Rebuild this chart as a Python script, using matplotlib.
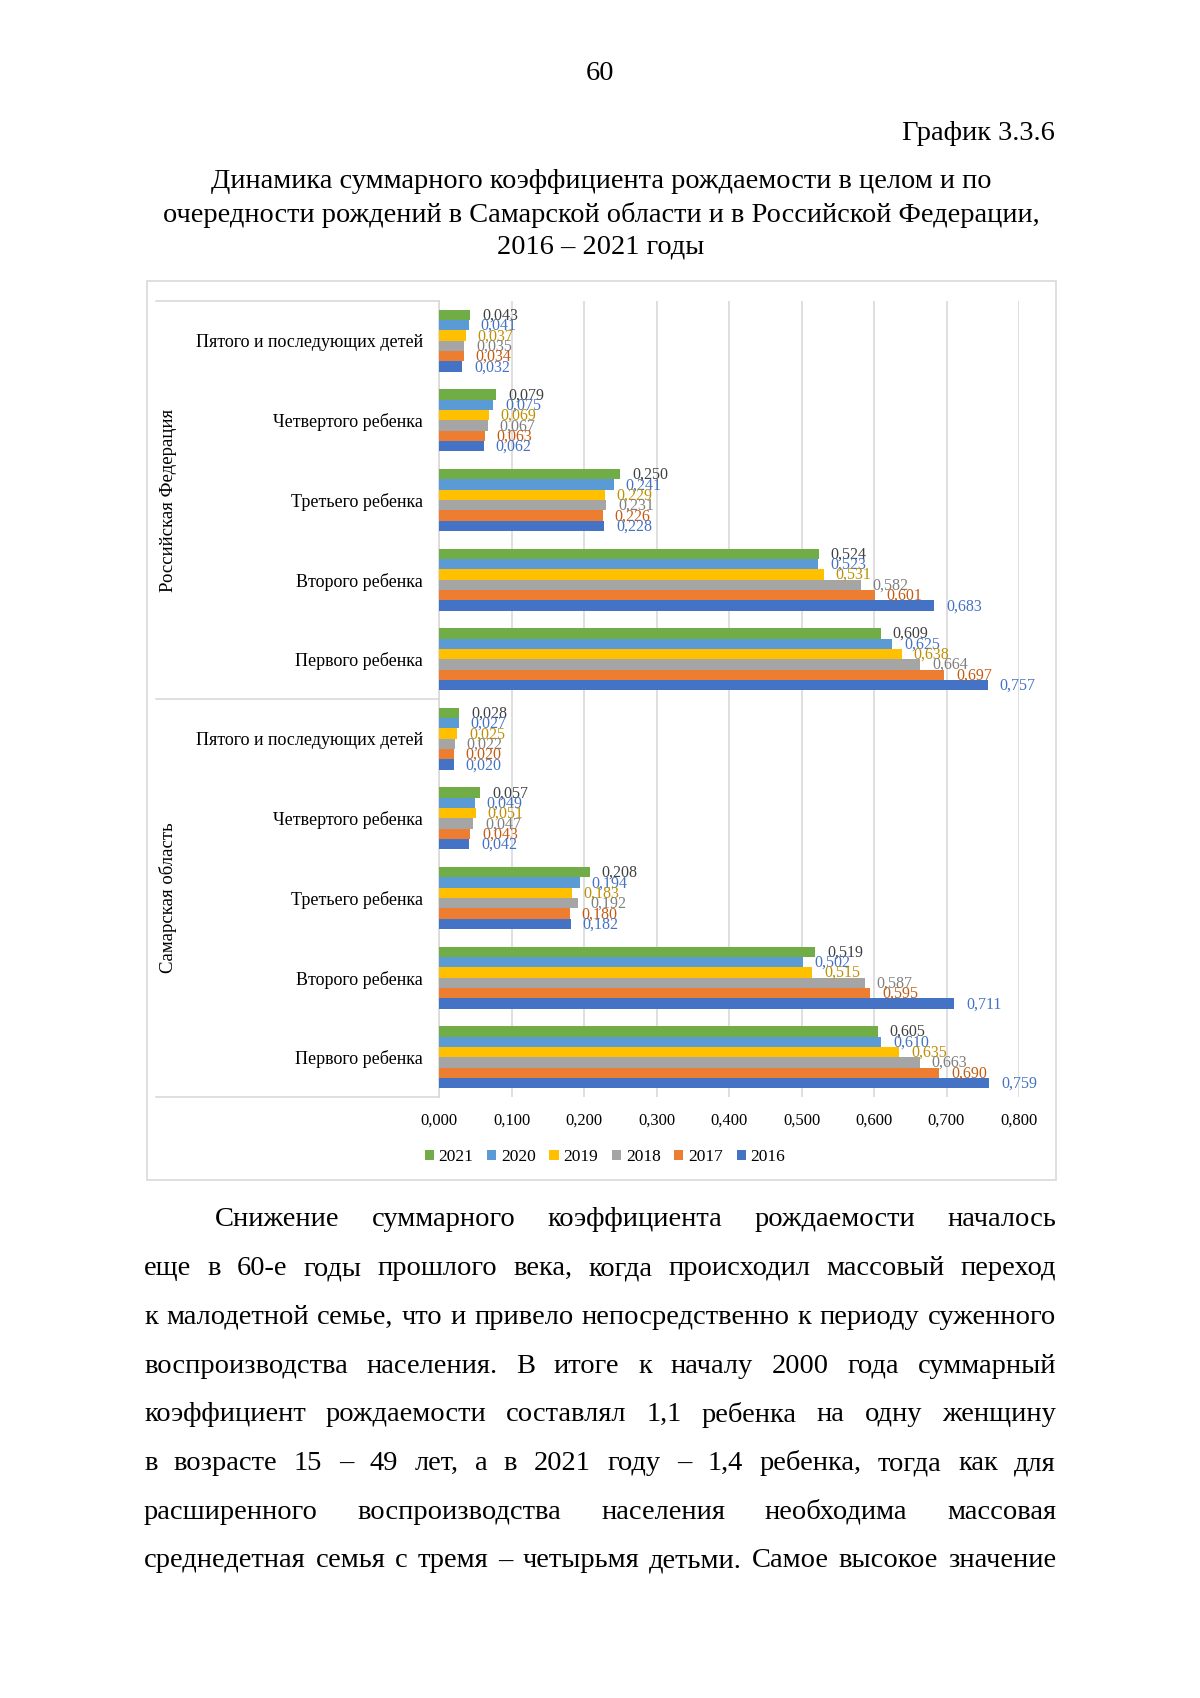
import matplotlib
matplotlib.use('Agg')
import matplotlib.pyplot as plt
from matplotlib.patches import Rectangle
from matplotlib.lines import Line2D
import numpy as np

plt.rcParams['font.family'] = ['Liberation Serif', 'DejaVu Serif']

W, H = 1200, 1698

years = ['2021', '2020', '2019', '2018', '2017', '2016']
bar_colors = ['#70AD47', '#5B9BD5', '#FFC000', '#A5A5A5', '#ED7D31', '#4472C4']
label_colors = ['#404040', '#4472C4', '#BF9000', '#7F7F7F', '#C55A11', '#4472C4']

categories = ['Первого ребенка', 'Второго ребенка', 'Третьего ребенка',
              'Четвертого ребенка', 'Пятого и последующих детей']
regions = ['Самарская область', 'Российская Федерация']

# строки - годы (2021 ... 2016), столбцы - очередность (Первого ... Пятого)
samara = [
    [0.605, 0.519, 0.208, 0.057, 0.028],
    [0.610, 0.502, 0.194, 0.049, 0.027],
    [0.635, 0.515, 0.183, 0.051, 0.025],
    [0.663, 0.587, 0.192, 0.047, 0.022],
    [0.690, 0.595, 0.180, 0.043, 0.020],
    [0.759, 0.711, 0.182, 0.042, 0.020],
]
rf = [
    [0.609, 0.524, 0.250, 0.079, 0.043],
    [0.625, 0.523, 0.241, 0.075, 0.041],
    [0.638, 0.531, 0.229, 0.069, 0.037],
    [0.664, 0.582, 0.231, 0.067, 0.035],
    [0.697, 0.601, 0.226, 0.063, 0.034],
    [0.757, 0.683, 0.228, 0.062, 0.032],
]

xticks = [0.0, 0.1, 0.2, 0.3, 0.4, 0.5, 0.6, 0.7, 0.8]

fig = plt.figure(figsize=(12, 16.98), dpi=100)


def fx(px):
    return px / W


def fy(py):
    return 1 - py / H


# рамка диаграммы
fig.patches.append(Rectangle((fx(147), fy(1180)), fx(1056) - fx(147), fy(281) - fy(1180),
                             transform=fig.transFigure, fill=False, ec='#D9D9D9', lw=1.2))

ax_l, ax_r, ax_t, ax_b = 439, 1019, 301, 1097
ax = fig.add_axes([fx(ax_l), fy(ax_b), fx(ax_r - ax_l), fy(ax_t) - fy(ax_b)])

data = np.hstack([np.array(samara), np.array(rf)])  # 6 x 10
ypos = np.arange(data.shape[1])
bh = 0.13
for j, yr in enumerate(years):
    yy = ypos + (2.5 - j) * bh
    ax.barh(yy, data[j], height=bh, color=bar_colors[j], label=yr, zorder=3)
    for y, v in zip(yy, data[j]):
        ax.annotate(f'{v:.3f}'.replace('.', ','), (v, y), xytext=(8.5, -0.5),
                    textcoords='offset points', va='center', ha='left',
                    fontsize=11.5, color=label_colors[j], zorder=4)

ax.set_xlim(0, 0.8)
ax.set_ylim(-0.5, 9.5)
ax.set_xticks(xticks)
ax.set_xticklabels([f'{t:.3f}'.replace('.', ',') for t in xticks], fontsize=12)
ax.set_yticks(ypos)
ax.set_yticklabels(categories * 2, fontsize=13)
ax.tick_params(length=0)
ax.tick_params(axis='x', pad=11)
ax.tick_params(axis='y', pad=11.5)
ax.grid(axis='x', color='#D9D9D9', lw=1.2, zorder=0)
for s in ['top', 'right', 'bottom']:
    ax.spines[s].set_visible(False)
ax.spines['left'].set_color('#D9D9D9')
ax.spines['left'].set_linewidth(1.2)

# линии таблицы категорий
for py in [301, 699, 1097]:
    fig.lines.append(Line2D([fx(156), fx(439)], [fy(py), fy(py)],
                            transform=fig.transFigure, color='#D9D9D9', lw=1.2))

fig.text(fx(168), fy(898), regions[0], rotation=90, ha='center', va='center', fontsize=13.5)
fig.text(fx(168), fy(500), regions[1], rotation=90, ha='center', va='center', fontsize=13.5)

fig.legend(loc='center', bbox_to_anchor=(fx(605), fy(1157)), ncol=6, frameon=False,
           fontsize=12.5, handlelength=0.52, handleheight=0.52, handletextpad=0.29,
           columnspacing=0.78)

# текст страницы
fig.text(fx(600), fy(74), '60', ha='center', va='center', fontsize=20.5)
fig.text(fx(1055), fy(134), 'График 3.3.6', ha='right', va='center', fontsize=20.5)
title = ['Динамика суммарного коэффициента рождаемости в целом и по',
         'очередности рождений в Самарской области и в Российской Федерации,',
         '2016 – 2021 годы']
for i, t in enumerate(title):
    fig.text(fx(601), fy(182 + 32.5 * i), t, ha='center', va='center', fontsize=20.4)

body = [
    'Снижение суммарного коэффициента рождаемости началось',
    'еще в 60-е годы прошлого века, когда происходил массовый переход',
    'к малодетной семье, что и привело непосредственно к периоду суженного',
    'воспроизводства населения. В итоге к началу 2000 года суммарный',
    'коэффициент рождаемости составлял 1,1 ребенка на одну женщину',
    'в возрасте 15 – 49 лет, а в 2021 году – 1,4 ребенка, тогда как для',
    'расширенного воспроизводства населения необходима массовая',
    'среднедетная семья с тремя – четырьмя детьми. Самое высокое значение',
]

fig.canvas.draw()
r = fig.canvas.get_renderer()
for i, line in enumerate(body):
    py = 1220 + 48.7 * i
    x0 = 215 if i == 0 else 144
    words = line.split(' ')
    ts = [fig.text(0, fy(py), w, fontsize=20.5, va='center', ha='left') for w in words]
    ws = [t.get_window_extent(r).width for t in ts]
    gap = (1056 - x0 - sum(ws)) / (len(words) - 1)
    x = x0
    for t, w in zip(ts, ws):
        t.set_x(fx(x))
        x += w + gap

fig.savefig('out.png', dpi=100, facecolor='white')
